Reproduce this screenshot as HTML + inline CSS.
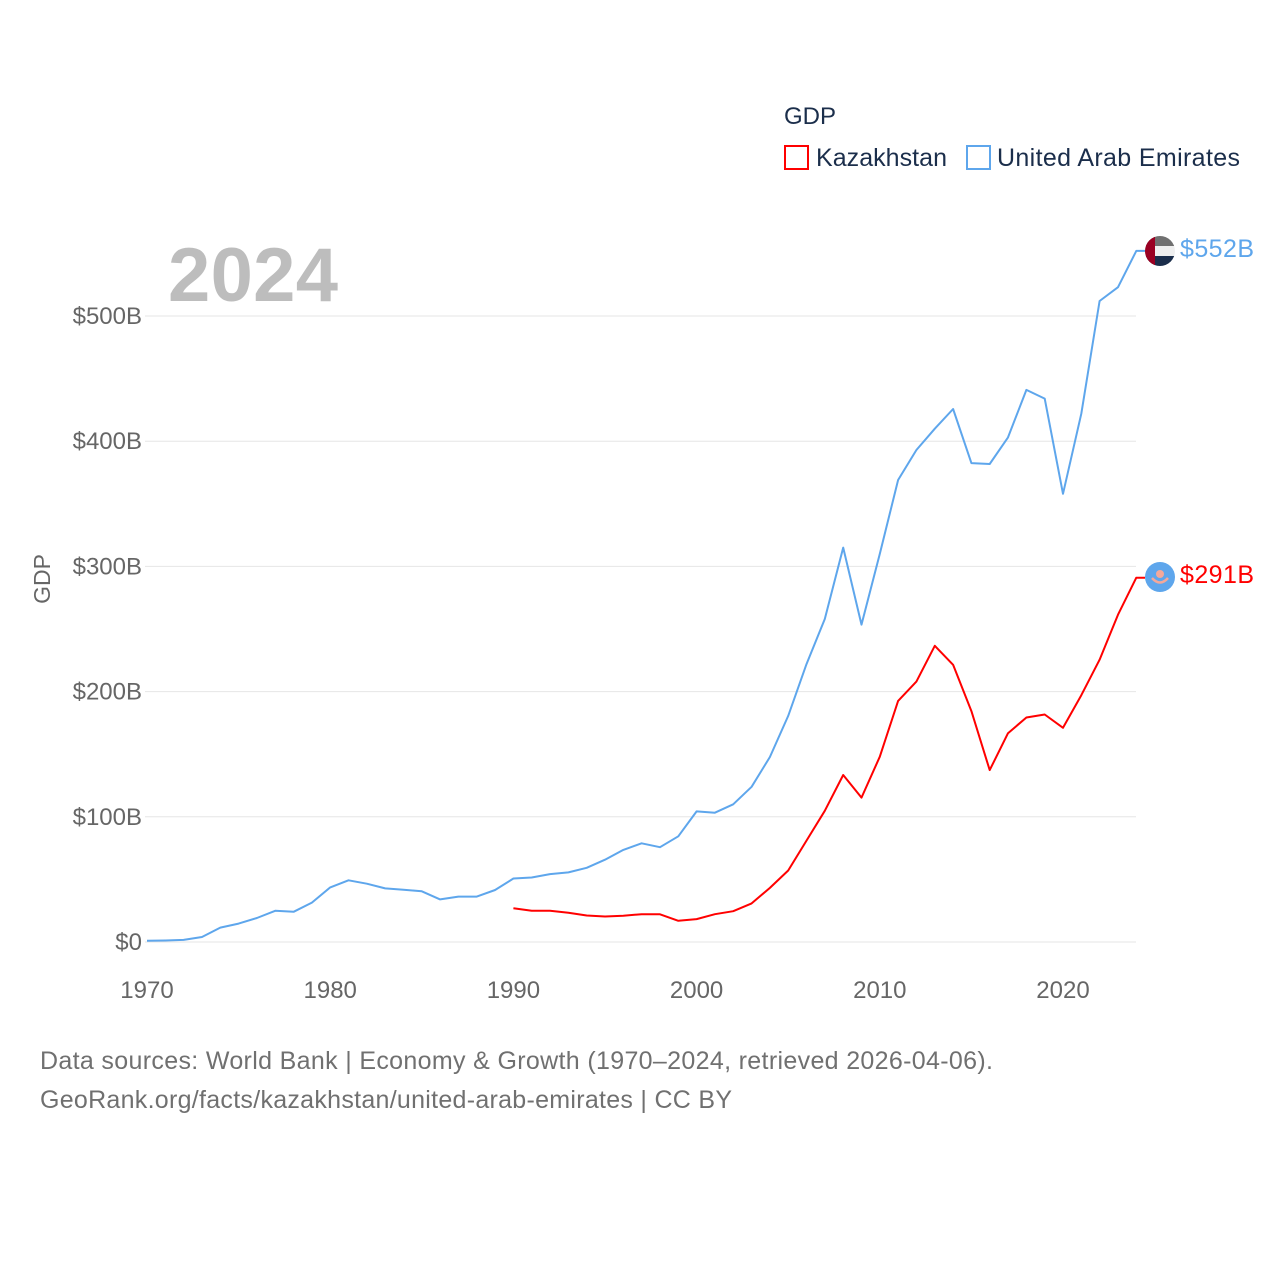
<!DOCTYPE html>
<html><head><meta charset="utf-8"><style>
html,body{margin:0;padding:0;background:#fff;}
svg{display:block;font-family:"Liberation Sans",sans-serif;}
</style></head><body>
<svg id="chart" width="1280" height="1280" viewBox="0 0 1280 1280">
<g id="grid"></g>
<g id="yticks"></g>
<g id="xticks"></g>
<text x="168" y="301" font-size="76" font-weight="bold" fill="#bdbdbd" textLength="170">2024</text>
<text x="50" y="579" font-size="23" fill="#666" transform="rotate(-90 50 579)" text-anchor="middle">GDP</text>
<g id="series"></g>
<g>
<text x="784" y="124" font-size="24" fill="#1b2e4b">GDP</text>
<g>
<rect x="785" y="146" width="23" height="23" fill="none" stroke="#ff0000" stroke-width="2"/>
<text x="816" y="166" font-size="25" fill="#1b2e4b" textLength="131">Kazakhstan</text></g>
<g>
<rect x="967" y="146" width="23" height="23" fill="none" stroke="#5ea6ec" stroke-width="2"/>
<text x="997" y="166" font-size="25" fill="#1b2e4b" textLength="243">United Arab Emirates</text></g>
</g>
<g>
<clipPath id="cu"><circle cx="1160" cy="251" r="15"/></clipPath>
<g clip-path="url(#cu)">
<rect x="1145" y="236" width="30" height="10" fill="#707070"/>
<rect x="1145" y="246" width="30" height="10" fill="#efefef"/>
<rect x="1145" y="256" width="30" height="10" fill="#1b2e4b"/>
<rect x="1145" y="236" width="10" height="30" fill="#9a0022"/>
</g></g>
<g>
<circle cx="1160" cy="577" r="15" fill="#5ea6ec"/>
<circle cx="1160" cy="574" r="4" fill="#f4a89a"/>
<path d="M1152 578 Q1160 587 1168 578" stroke="#f4a89a" stroke-width="2.5" fill="none"/>
</g>
<text x="1180" y="257" font-size="25" fill="#5ea6ec" textLength="74">$552B</text>
<text x="1180" y="583" font-size="25" fill="#ff0000" textLength="74">$291B</text>
<text x="40" y="1069" font-size="25" fill="#707070" textLength="953">Data sources: World Bank | Economy &amp; Growth (1970–2024, retrieved 2026-04-06).</text>
<text x="40" y="1108" font-size="25" fill="#707070" textLength="692">GeoRank.org/facts/kazakhstan/united-arab-emirates | CC BY</text>
</svg>
<script>
const years = [];
for (let y = 1970; y <= 2024; y++) years.push(y);
const uaeValues = [1,1.2,1.7,4,11.5,14.7,19.2,24.9,24.1,31.5,43.6,49.3,46.6,42.8,41.8,40.5,34,36.3,36.3,41.5,50.7,51.5,54.2,55.6,59.3,65.7,73.6,78.8,75.7,84.4,104.3,103.3,110,124,147.8,180.6,222,258,315,253.5,310,369,393,410,425.7,382.5,381.8,403,441,434,358,422,512,523,552];
const kazStartYear = 1990;
const kazValues = [26.9,24.9,24.9,23.4,21.2,20.4,21,22.2,22.1,16.9,18.3,22.2,24.6,30.8,43.2,57.1,81,104.8,133.4,115.3,148,192.6,208,236.6,221.4,184.4,137.3,166.8,179.3,181.7,171.1,197.1,225.5,261.4,291];
const yTicks = [0,100,200,300,400,500];
const yTickLabels = ["$0","$100B","$200B","$300B","$400B","$500B"];
const xTicks = [1970,1980,1990,2000,2010,2020];

const NS = "http://www.w3.org/2000/svg";
const x = yr => 147 + (yr - 1970) * 18.32;
const y = v => 942 - v * 1.252;
function mk(tag, attrs, parent){const e=document.createElementNS(NS,tag);for(const k in attrs)e.setAttribute(k,attrs[k]);parent.appendChild(e);return e;}
const grid=document.getElementById('grid'), yt=document.getElementById('yticks'), xt=document.getElementById('xticks'), ser=document.getElementById('series');
yTicks.forEach((v,i)=>{
  const l=mk('line',{x1:145,x2:1136,y1:y(v),y2:y(v),stroke:'#e6e6e6','stroke-width':1},grid);
  
  
  const t=mk('text',{x:142,y:y(v)+8,'font-size':24,fill:'#666','text-anchor':'end'},yt);
  t.textContent=yTickLabels[i];
  
  
});
xTicks.forEach(v=>{
  const t=mk('text',{x:x(v),y:998,'font-size':24,fill:'#666','text-anchor':'middle'},xt);
  t.textContent=v;
  
  
});
function line(vals,start,color,name){
  let pts=vals.map((v,i)=>x(start+i).toFixed(1)+','+y(v).toFixed(1));
  const last=vals[vals.length-1];
  pts.push('1145,'+y(last).toFixed(1));
  const p=mk('polyline',{points:pts.join(' '),fill:'none',stroke:color,'stroke-width':2,'stroke-linejoin':'round'},ser);
  
  
}
line(uaeValues,1970,'#5ea6ec','uae-line');
line(kazValues,kazStartYear,'#ff0000','kazakhstan-line');
</script>
</body></html>
